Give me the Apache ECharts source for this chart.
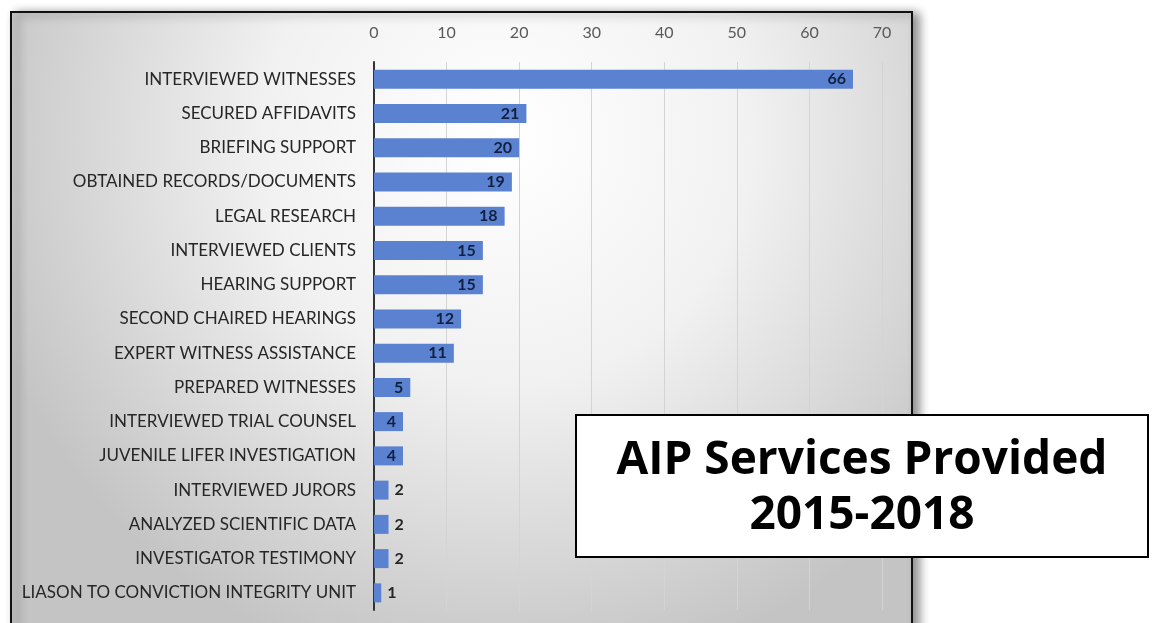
<!DOCTYPE html>
<html>
<head>
<meta charset="utf-8">
<title>AIP Services Provided 2015-2018</title>
<script src="https://cdn.jsdelivr.net/npm/echarts@6/dist/echarts.min.js"></script>
<style>
  html, body { margin: 0; padding: 0; background: #fff; }
  #chart { width: 1155px; height: 623px; }
</style>
</head>
<body>
<div id="chart"></div>
<script>
// services, top to bottom
const categories = [
  'INTERVIEWED WITNESSES',
  'SECURED AFFIDAVITS',
  'BRIEFING SUPPORT',
  'OBTAINED RECORDS/DOCUMENTS',
  'LEGAL RESEARCH',
  'INTERVIEWED CLIENTS',
  'HEARING SUPPORT',
  'SECOND CHAIRED HEARINGS',
  'EXPERT WITNESS ASSISTANCE',
  'PREPARED WITNESSES',
  'INTERVIEWED TRIAL COUNSEL',
  'JUVENILE LIFER INVESTIGATION',
  'INTERVIEWED JURORS',
  'ANALYZED SCIENTIFIC DATA',
  'INVESTIGATOR TESTIMONY',
  'LIASON TO CONVICTION INTEGRITY UNIT'
];
const counts = [66, 21, 20, 19, 18, 15, 15, 12, 11, 5, 4, 4, 2, 2, 2, 1];
const xTicks = [0, 10, 20, 30, 40, 50, 60, 70];
const titleLines = ['AIP Services Provided', '2015-2018'];

const barColor = '#5b82d1';

// small bars get their label outside the bar
const barData = counts.map(v => ({
  value: v,
  label: v < 4
    ? { position: 'right', color: '#262626', distance: 6 }
    : { position: 'insideRight', color: '#12203f', distance: 7 }
}));

const chart = echarts.init(document.getElementById('chart'));

chart.setOption({
  animation: false,
  backgroundColor: '#ffffff',
  graphic: [
    {
      type: 'rect',
      z: -10,
      shape: { x: 11, y: 12, width: 901, height: 640 },
      style: {
        fill: {
          type: 'radial', x: 0.55, y: 0.2, r: 0.85,
          colorStops: [
            { offset: 0, color: '#ffffff' },
            { offset: 0.45, color: '#f1f1f1' },
            { offset: 1, color: '#c4c4c4' }
          ]
        },
        stroke: '#111',
        lineWidth: 2,
        shadowBlur: 10,
        shadowOffsetX: 6,
        shadowOffsetY: 2,
        shadowColor: 'rgba(0,0,0,0.45)'
      }
    },
    // title box sits above the plot
    {
      type: 'rect',
      zlevel: 2,
      z: 100,
      shape: { x: 576, y: 415, width: 572, height: 142 },
      style: { fill: '#ffffff', stroke: '#000', lineWidth: 2 }
    },
    {
      type: 'text',
      zlevel: 2,
      z: 101,
      x: 862,
      y: 488,
      style: {
        text: titleLines.join('\n'),
        align: 'center',
        verticalAlign: 'middle',
        font: 'bold 46px "Open Sans"',
        lineHeight: 55,
        fill: '#000'
      }
    }
  ],
  grid: { left: 374, right: 273, top: 62, bottom: 13, containLabel: false },
  xAxis: {
    type: 'value',
    position: 'top',
    min: xTicks[0],
    max: xTicks[xTicks.length - 1],
    interval: 10,
    axisLine: { show: false },
    axisTick: { show: false },
    axisLabel: { color: '#595959', fontFamily: 'Lato', fontSize: 16, margin: 21 },
    splitLine: { lineStyle: { color: '#d4d4d4', width: 1 } }
  },
  yAxis: {
    type: 'category',
    inverse: true,
    data: categories,
    axisLine: { show: true, lineStyle: { color: '#333', width: 2 } },
    axisTick: { show: false },
    axisLabel: { color: '#262626', fontFamily: 'Lato', fontSize: 17, margin: 18 }
  },
  series: [
    {
      type: 'bar',
      data: barData,
      barWidth: 19,
      itemStyle: { color: barColor },
      label: {
        show: true,
        fontFamily: 'Lato',
        fontWeight: 'bold',
        fontSize: 16
      }
    }
  ]
});

window.addEventListener('resize', () => {
  chart.resize();
});
</script>
</body>
</html>
